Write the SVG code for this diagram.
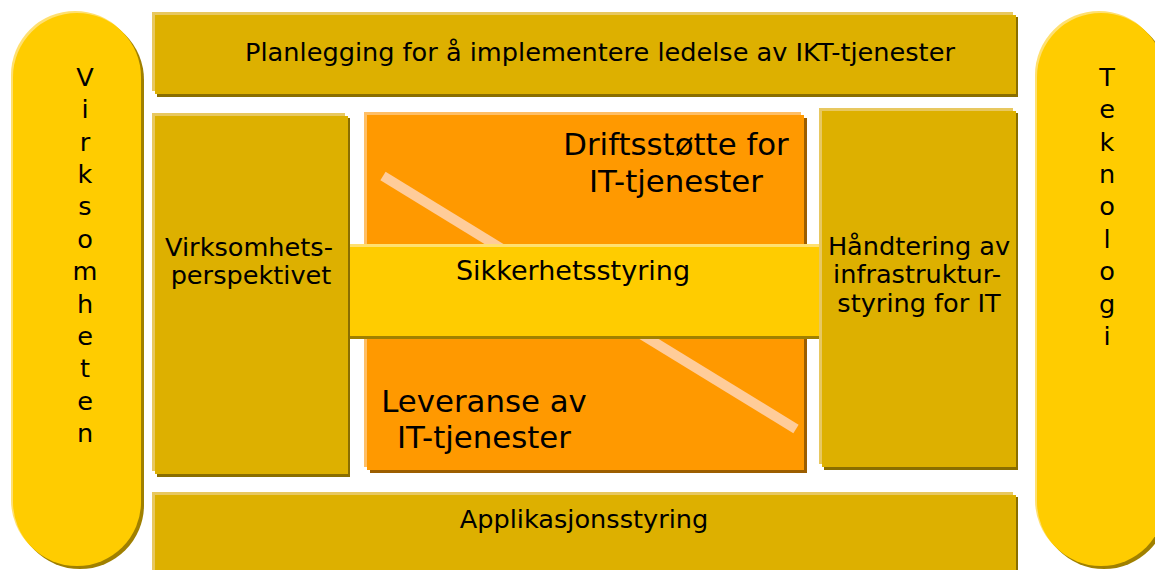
<svg xmlns="http://www.w3.org/2000/svg" width="1155" height="570" viewBox="0 0 1155 570">
<style>
text{font-family:"DejaVu Sans","Verdana",sans-serif;fill:#000;}
.t25{font-size:25.6px;}
.t30{font-size:30.8px;}
.mid{text-anchor:middle;}
.gHi{fill:#E8C860;}
.gSh{fill:#8A6E00;}
.gMain{fill:#DDB000;}
.oHi{fill:#FFBF66;}
.oSh{fill:#9C5E00;}
.oMain{fill:#FF9900;}
.yHi{fill:#FFE070;}
.ySh{fill:#A08000;}
.yMain{fill:#FFCC00;}
</style>
<rect width="1155" height="570" fill="#FFFFFF"/>

<g id="virksomheten">
<rect class="yHi" x="11" y="11" width="128" height="553" rx="64"/>
<rect class="ySh" x="16" y="16" width="128" height="553" rx="64"/>
<rect class="yMain" x="13" y="13" width="128" height="553" rx="64"/>
<text class="t25 mid" x="85">
<tspan x="85" y="86">V</tspan><tspan x="85" y="118.4">i</tspan><tspan x="85" y="150.7">r</tspan><tspan x="85" y="183.1">k</tspan><tspan x="85" y="215.4">s</tspan><tspan x="85" y="247.8">o</tspan><tspan x="85" y="280.1">m</tspan><tspan x="85" y="312.5">h</tspan><tspan x="85" y="344.8">e</tspan><tspan x="85" y="377.2">t</tspan><tspan x="85" y="409.5">e</tspan><tspan x="85" y="441.9">n</tspan>
</text>
</g>

<g id="teknologi">
<rect class="yHi" x="1035" y="11" width="128" height="553" rx="64"/>
<rect class="ySh" x="1040" y="16" width="128" height="553" rx="64"/>
<rect class="yMain" x="1037" y="13" width="128" height="553" rx="64"/>
<text class="t25 mid" x="1107">
<tspan x="1107" y="86">T</tspan><tspan x="1107" y="118.4">e</tspan><tspan x="1107" y="150.7">k</tspan><tspan x="1107" y="183.1">n</tspan><tspan x="1107" y="215.4">o</tspan><tspan x="1107" y="247.8">l</tspan><tspan x="1107" y="280.1">o</tspan><tspan x="1107" y="312.5">g</tspan><tspan x="1107" y="344.8">i</tspan>
</text>
</g>

<g id="planlegging">
<rect class="gHi" x="152" y="12" width="861" height="79"/>
<rect class="gSh" x="157" y="17" width="861" height="80"/>
<rect class="gMain" x="155" y="15" width="861" height="79"/>
<text class="t25 mid" x="600" y="61">Planlegging for å implementere ledelse av IKT-tjenester</text>
</g>

<g id="virksomhetsperspektivet">
<rect class="gHi" x="152" y="113" width="193" height="358"/>
<rect class="gSh" x="157" y="118" width="193" height="359"/>
<rect class="gMain" x="155" y="116" width="193" height="358"/>
<text class="t25 mid" x="250"><tspan x="249" y="256">Virksomhets-</tspan><tspan x="251" y="284">perspektivet</tspan></text>
</g>

<g id="driftsstotte-leveranse">
<rect class="oHi" x="364" y="112" width="437" height="355"/>
<rect class="oSh" x="370" y="118" width="437" height="355"/>
<rect class="oMain" x="367" y="115" width="437" height="355"/>
<text class="t30 mid"><tspan x="676" y="155">Driftsstøtte for</tspan><tspan x="676" y="192">IT-tjenester</tspan></text>
<text class="t30 mid"><tspan x="484" y="412">Leveranse av</tspan><tspan x="484" y="448">IT-tjenester</tspan></text>
<line x1="383" y1="176" x2="796" y2="429" stroke="#FFCC99" stroke-width="10"/>
</g>

<g id="sikkerhetsstyring">
<rect class="yHi" x="350" y="244" width="469" height="90"/>
<rect class="ySh" x="350" y="249" width="469" height="90"/>
<rect class="yMain" x="350" y="247" width="469" height="89"/>
<text class="mid" style="font-size:27px" x="573" y="280">Sikkerhetsstyring</text>
</g>

<g id="infrastruktur">
<rect class="gHi" x="819" y="108" width="194" height="356"/>
<rect class="gSh" x="824" y="113" width="194" height="357"/>
<rect class="gMain" x="822" y="111" width="194" height="356"/>
<text class="t25 mid"><tspan x="919" y="255">Håndtering av</tspan><tspan x="917" y="283">infrastruktur-</tspan><tspan x="919" y="312">styring for IT</tspan></text>
</g>

<g id="applikasjonsstyring">
<rect class="gHi" x="152" y="492" width="861" height="90"/>
<rect class="gSh" x="157" y="497" width="861" height="90"/>
<rect class="gMain" x="155" y="495" width="861" height="90"/>
<text class="t25 mid" x="584" y="528">Applikasjonsstyring</text>
</g>

<g id="connectors"></g>
</svg>
